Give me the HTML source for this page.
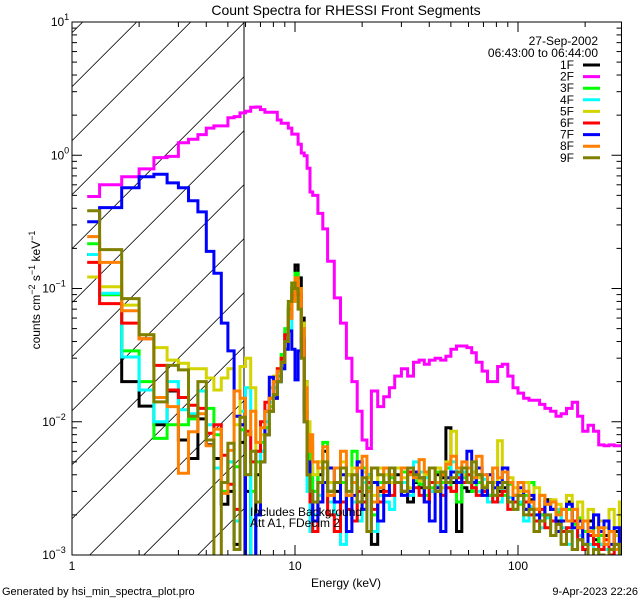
<!DOCTYPE html>
<html><head><meta charset="utf-8"><style>
body{margin:0;background:#fff;}
svg{display:block;font-family:"Liberation Sans",sans-serif;}
</style></head><body>
<svg id="chart" width="640" height="600" viewBox="0 0 640 600">
<defs><clipPath id="pc"><rect x="72" y="22" width="549.5" height="533"/></clipPath>
<clipPath id="hc"><rect x="72" y="22" width="172" height="533"/></clipPath></defs>
<rect width="640" height="600" fill="#fff"/>
<text x="346" y="15" text-anchor="middle" font-size="14">Count Spectra for RHESSI Front Segments</text>
<g id="hatch" clip-path="url(#hc)"></g>
<line x1="244" y1="22" x2="244" y2="555" stroke="#000" stroke-width="1"/>
<g id="series" clip-path="url(#pc)"></g>
<rect x="72" y="22" width="549.5" height="533" fill="none" stroke="#000" stroke-width="1"/>
<g id="axes"></g>
<text x="250" y="516" font-size="12">Includes Background</text>
<text x="250" y="527" font-size="12">Att A1, FDecim 2</text>
<text x="346" y="587" text-anchor="middle" font-size="12">Energy (keV)</text>
<text transform="translate(40,290) rotate(-90)" text-anchor="middle" font-size="12">counts cm<tspan dy="-5" font-size="9">−2</tspan><tspan dy="5"> s</tspan><tspan dy="-5" font-size="9">−1</tspan><tspan dy="5"> keV</tspan><tspan dy="-5" font-size="9">−1</tspan></text>
<text x="2" y="595" font-size="11">Generated by hsi_min_spectra_plot.pro</text>
<text x="638" y="595" text-anchor="end" font-size="11">9-Apr-2023 22:26</text>
<text x="598" y="45" text-anchor="end" font-size="12">27-Sep-2002</text>
<text x="598" y="57" text-anchor="end" font-size="12">06:43:00 to 06:44:00</text>
<g id="legend"></g>
</svg>
<script>
const edgesLow=[1.17,1.33,1.67,2.0,2.33,2.67,3.0,3.33,3.67,4.0,4.33,4.67,5.0,5.33,5.67,6.0,6.33,6.67,7.0,7.33,7.67,8.0,8.33,8.67,9.0,9.33,9.67,10.0,10.33,10.67,11.0,11.33,11.67,12.0,12.67,13.33,14.0,15.0];
const edgesHigh=[16,17,18,19,20,21,22,23.5,25,26.5,28,30,32,34,36,38,40,42.5,45,47.5,50,53,56,59,62,65,69,73,77,81,85,90,95,100,106,112,118,125,132,140,148,156,165,175,185,195,206,218,230,243,256,270,285,290];
const seriesNames=["1F","2F","3F","4F","5F","6F","7F","8F","9F"];
const seriesColors=["#000000","#ff00ff","#00ff00","#00ffff","#d4d400","#ff0000","#0000ff","#ff8000","#808000"];
const s1Low=[0.18,0.09,0.02,0.0131,0.0095,0.017,0.0073,0.0053,0.0105,0.0067,0.0053,0.0024,0.003,0.0012,0.007,0.003,0.0008,0.004,0.006,0.008,0.012,0.015,0.02,0.03,0.045,0.07,0.1,0.15,0.12,0.06,0.02,0.004,0.002,0.0025,0.004,0.006,0.003];
const s1High=[0.003,0.0025,0.004,0.0035,0.005,0.0028,0.004,0.0012,0.003,0.0035,0.0045,0.004,0.003,0.0025,0.0035,0.0032,0.0025,0.003,0.004,0.0038,0.009,0.0035,0.0015,0.0032,0.003,0.0035,0.004,0.003,0.0028,0.0035,0.003,0.0032,0.0025,0.0028,0.0035,0.0022,0.0026,0.0022,0.002,0.0026,0.0022,0.0018,0.0022,0.0025,0.0018,0.0016,0.0015,0.0018,0.0013,0.0012,0.0014,0.0011,0.0015,0.0012];
const s2Low=[0.49,0.6,0.69,0.79,0.96,0.98,1.24,1.32,1.43,1.6,1.66,1.66,1.91,1.95,2.08,2.14,2.29,2.3,2.2,2.1,2.1,2.1,1.84,1.74,1.74,1.6,1.44,1.44,1.21,1.04,0.99,0.8,0.53,0.5,0.366,0.28,0.16];
const s2High=[0.085,0.055,0.03,0.02,0.012,0.0073,0.0063,0.017,0.013,0.0154,0.018,0.022,0.025,0.022,0.028,0.029,0.027,0.029,0.03,0.029,0.031,0.035,0.037,0.037,0.036,0.033,0.028,0.024,0.02,0.02,0.026,0.027,0.022,0.018,0.0164,0.015,0.0145,0.0145,0.0135,0.0126,0.012,0.011,0.0115,0.0126,0.014,0.011,0.0085,0.0094,0.0085,0.0067,0.0066,0.0067,0.0066,0.0066];
const s3Low=[0.217,0.09,0.034,0.02,0.0075,0.0095,0.0095,0.0105,0.017,0.0126,0.008,0.003,0.005,0.0046,0.0087,0.004,0.003,0.005,0.007,0.009,0.013,0.016,0.022,0.032,0.05,0.075,0.11,0.13,0.1,0.05,0.015,0.006,0.0045,0.003,0.005,0.007,0.0035];
const s3High=[0.0025,0.0035,0.0028,0.006,0.003,0.0045,0.0032,0.002,0.0035,0.004,0.0038,0.0035,0.0042,0.003,0.0036,0.0034,0.0028,0.0032,0.0042,0.0035,0.0045,0.003,0.0025,0.0038,0.004,0.003,0.0035,0.0032,0.0028,0.0045,0.0032,0.0028,0.0034,0.0025,0.0024,0.0028,0.0035,0.0022,0.002,0.0024,0.0025,0.0021,0.0018,0.0022,0.0017,0.0019,0.0015,0.0016,0.0012,0.0014,0.0013,0.0015,0.0011,0.0012];
const s4Low=[0.18,0.092,0.0306,0.0173,0.01,0.02,0.0123,0.0115,0.017,0.0095,0.0045,0.0035,0.005,0.0018,0.012,0.018,0.0006,0.002,0.006,0.01,0.014,0.018,0.02,0.025,0.035,0.05,0.08,0.1,0.09,0.045,0.012,0.003,0.0015,0.002,0.0028,0.0035,0.0025];
const s4High=[0.002,0.0012,0.003,0.0025,0.0018,0.0035,0.004,0.0015,0.0028,0.0025,0.0022,0.0045,0.0035,0.0028,0.005,0.0042,0.0038,0.003,0.0033,0.0028,0.0035,0.005,0.004,0.0042,0.0035,0.0032,0.003,0.0037,0.0025,0.0028,0.0025,0.0035,0.0027,0.0022,0.0025,0.0018,0.0023,0.002,0.0016,0.0019,0.0018,0.0022,0.0016,0.0012,0.0018,0.0014,0.0011,0.0012,0.0009,0.0012,0.0011,0.001,0.0012,0.0009];
const s5Low=[0.122,0.103,0.075,0.045,0.036,0.029,0.0275,0.025,0.025,0.0213,0.0173,0.0213,0.025,0.0095,0.026,0.03,0.018,0.006,0.008,0.012,0.018,0.022,0.025,0.03,0.04,0.06,0.09,0.12,0.1,0.055,0.02,0.01,0.0065,0.004,0.005,0.0045,0.0035];
const s5High=[0.0035,0.005,0.004,0.0045,0.0032,0.0042,0.0038,0.0028,0.0045,0.004,0.0035,0.0045,0.0038,0.0032,0.0042,0.0036,0.004,0.0035,0.0045,0.0032,0.005,0.0085,0.0045,0.004,0.0035,0.0042,0.0038,0.0033,0.004,0.0035,0.0072,0.0045,0.0038,0.0032,0.003,0.0035,0.0028,0.0032,0.0028,0.0025,0.0026,0.0024,0.0022,0.0028,0.0022,0.0025,0.0018,0.0022,0.0016,0.0018,0.0016,0.0022,0.0014,0.0025];
const s6Low=[0.157,0.077,0.055,0.042,0.0265,0.0173,0.0152,0.0133,0.0126,0.0082,0.0095,0.0056,0.0034,0.0022,0.0095,0.0085,0.005,0.006,0.01,0.014,0.015,0.02,0.025,0.03,0.045,0.06,0.09,0.11,0.09,0.04,0.012,0.004,0.0025,0.0015,0.0025,0.0035,0.002];
const s6High=[0.0015,0.0025,0.0022,0.0018,0.003,0.0025,0.0035,0.0022,0.0025,0.003,0.0028,0.0035,0.003,0.0042,0.0032,0.0028,0.0025,0.0035,0.003,0.0028,0.0032,0.003,0.0038,0.0035,0.004,0.0032,0.0028,0.003,0.0035,0.0025,0.0028,0.003,0.0022,0.0025,0.0028,0.0025,0.002,0.0018,0.0022,0.0016,0.0018,0.0017,0.0015,0.0016,0.0018,0.0013,0.0011,0.0014,0.0012,0.0011,0.0013,0.001,0.0012,0.0011];
const s7Low=[0.317,0.405,0.57,0.69,0.72,0.62,0.57,0.455,0.376,0.19,0.13,0.055,0.034,0.011,0.0095,0.0005,0.0005,0.002,0.005,0.012,0.0216,0.015,0.02,0.025,0.035,0.048,0.035,0.0206,0.034,0.042,0.01,0.005,0.003,0.0018,0.0025,0.0035,0.0045];
const s7High=[0.0025,0.004,0.0015,0.0028,0.005,0.0022,0.003,0.0035,0.0018,0.0028,0.0045,0.0035,0.0028,0.003,0.0042,0.0038,0.0025,0.0018,0.0032,0.0015,0.0038,0.0042,0.0035,0.0045,0.006,0.0035,0.0045,0.0028,0.004,0.0032,0.0035,0.0045,0.0025,0.0028,0.0032,0.0022,0.0028,0.002,0.0018,0.0025,0.0022,0.0015,0.0018,0.0024,0.0016,0.0018,0.0012,0.0016,0.002,0.0015,0.0018,0.0012,0.0016,0.0011];
const s8Low=[0.245,0.157,0.068,0.042,0.0152,0.013,0.0041,0.0084,0.0115,0.0066,0.0088,0.0029,0.0061,0.017,0.015,0.008,0.012,0.007,0.009,0.012,0.015,0.02,0.024,0.028,0.04,0.06,0.08,0.12,0.1,0.05,0.018,0.006,0.008,0.005,0.0045,0.0065,0.0028];
const s8High=[0.0045,0.006,0.0028,0.0035,0.0045,0.0055,0.003,0.0025,0.0032,0.0045,0.004,0.0035,0.0045,0.004,0.0038,0.0052,0.0042,0.0045,0.0035,0.004,0.0048,0.0055,0.0045,0.005,0.0045,0.0038,0.0055,0.004,0.0035,0.0045,0.0038,0.0042,0.0035,0.0028,0.0035,0.003,0.0025,0.0022,0.0028,0.0024,0.0025,0.002,0.0022,0.0018,0.0022,0.0016,0.0018,0.0015,0.0014,0.0016,0.0012,0.0015,0.0011,0.0012];
const s9Low=[0.383,0.196,0.084,0.045,0.0141,0.0265,0.0245,0.011,0.02,0.0073,0.0005,0.0035,0.0069,0.0011,0.0108,0.004,0.006,0.0025,0.005,0.008,0.012,0.016,0.02,0.028,0.04,0.08,0.11,0.1,0.07,0.03,0.01,0.004,0.003,0.0025,0.0035,0.005,0.003];
const s9High=[0.0035,0.0045,0.003,0.004,0.0025,0.0038,0.0015,0.0045,0.004,0.0035,0.0045,0.0035,0.003,0.0045,0.004,0.0038,0.0032,0.0045,0.003,0.0042,0.0035,0.0038,0.0042,0.0045,0.0035,0.005,0.004,0.0032,0.0035,0.0028,0.0032,0.0035,0.0025,0.0022,0.0028,0.002,0.0022,0.0015,0.0018,0.002,0.0014,0.0017,0.0012,0.0015,0.0011,0.0013,0.0012,0.0009,0.0011,0.001,0.0009,0.0011,0.0012,0.001];
const xTickMajor=[1,10,100];
const xTickLabels=["1","10","100"];
const yTickExp=[1,0,-1,-2,-3];

const NS="http://www.w3.org/2000/svg";
const X0=72,X1=621.5,Y0=22,Y1=555,XDEC=223,YDEC=133.25;
function xs(e){return X0+Math.log10(e)*XDEC;}
function ys(v){if(!(v>0))return Y1+20;return Math.min(Y1+20,Y0+(1-Math.log10(v))*YDEC);}
function mk(tag,attrs,parent){const el=document.createElementNS(NS,tag);for(const k in attrs)el.setAttribute(k,attrs[k]);parent.appendChild(el);return el;}

// hatching
const hatch=document.getElementById('hatch');
for(let c=158.7-54*2;c<900;c+=54){
  const l=mk('line',{x1:c-600,y1:600,x2:c,y2:0,stroke:'#000','stroke-width':0.8},hatch);
  
  
}

// series
const edges=edgesLow.concat(edgesHigh);
const allVals=[[s1Low,s1High],[s2Low,s2High],[s3Low,s3High],[s4Low,s4High],[s5Low,s5High],[s6Low,s6High],[s7Low,s7High],[s8Low,s8High],[s9Low,s9High]];
const sg=document.getElementById('series');
allVals.forEach((pair,i)=>{
  const vals=pair[0].concat(pair[1]);
  const n=Math.min(vals.length,edges.length-1);
  let d='';
  for(let k=0;k<n;k++){
    const xa=xs(edges[k]),xb=xs(edges[k+1]),y=ys(vals[k]);
    d+=(k===0?'M':'L')+xa.toFixed(1)+','+y.toFixed(1)+'L'+xb.toFixed(1)+','+y.toFixed(1);
  }
  const p=mk('path',{d:d,fill:'none',stroke:seriesColors[i],'stroke-width':3,'stroke-linejoin':'miter'},sg);
  
  
});

// axes ticks
const ax=document.getElementById('axes');
for(let dec=0;dec<3;dec++){
  for(let m=1;m<10;m++){
    const e=Math.pow(10,dec)*m;const x=xs(e);
    if(x>X1)break;
    const len=m===1?10:5;
    const t1=mk('line',{x1:x,y1:Y1,x2:x,y2:Y1-len,stroke:'#000'},ax);
    
    
    const t2=mk('line',{x1:x,y1:Y0,x2:x,y2:Y0+len,stroke:'#000'},ax);
    
    
  }
}
xTickMajor.forEach((e,i)=>{
  const t=mk('text',{x:xs(e),y:570,'text-anchor':'middle','font-size':12},ax);
  t.textContent=xTickLabels[i];
  
  
});
for(let ex=-3;ex<1;ex++){
  for(let m=1;m<10;m++){
    const v=Math.pow(10,ex)*m;const y=ys(v);
    const len=m===1?10:5;
    const t1=mk('line',{x1:X0,y1:y,x2:X0+len,y2:y,stroke:'#000'},ax);
    
    
    const t2=mk('line',{x1:X1,y1:y,x2:X1-len,y2:y,stroke:'#000'},ax);
    
    
  }
}
yTickExp.forEach(ex=>{
  const y=ys(Math.pow(10,ex));
  const t=mk('text',{x:X0-4,y:y+4,'text-anchor':'end','font-size':12},ax);
  
  
  const a=document.createElementNS(NS,'tspan');a.textContent='10';t.appendChild(a);
  const b=document.createElementNS(NS,'tspan');b.setAttribute('dy','-6');b.setAttribute('font-size','9');
  b.textContent=ex<0?'−'+(-ex):String(ex);t.appendChild(b);
  t.setAttribute('x',X0-4-(ex<0?14:8));
  t.setAttribute('text-anchor','middle');
});

// legend
const lg=document.getElementById('legend');
seriesNames.forEach((nm,i)=>{
  const y=65+i*11.6;
  const t=mk('text',{x:574,y:y+4,'text-anchor':'end','font-size':12},lg);
  t.textContent=nm;
  
  
  const l=mk('line',{x1:583,y1:y,x2:600,y2:y,stroke:seriesColors[i],'stroke-width':3},lg);
  
  
});
</script>
</body></html>
